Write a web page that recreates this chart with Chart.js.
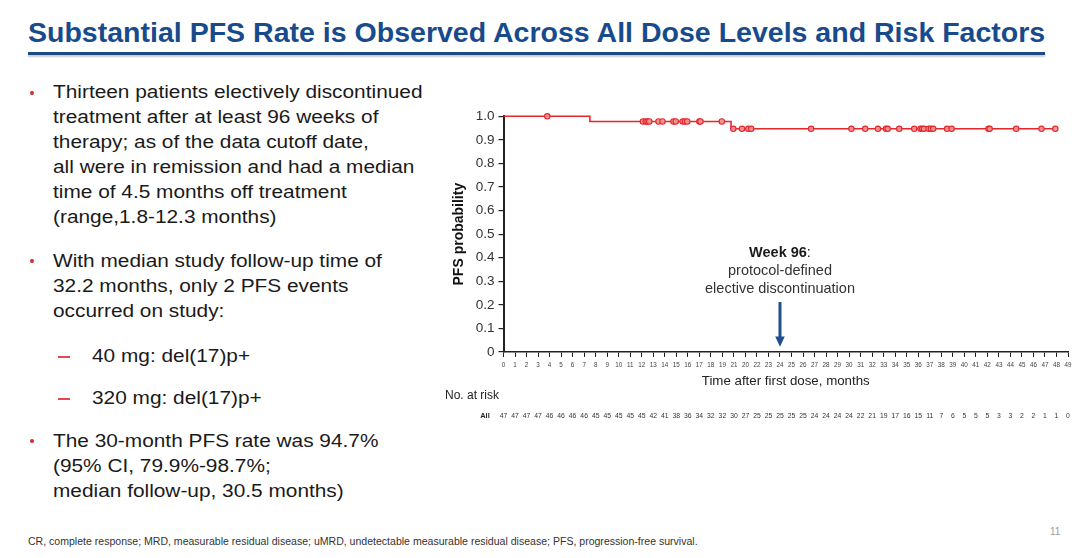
<!DOCTYPE html>
<html><head><meta charset="utf-8">
<script src="https://cdn.jsdelivr.net/npm/chart.js@4.4.1/dist/chart.umd.min.js"></script>
<style>
html,body{margin:0;padding:0;background:#fff;width:1080px;height:558px;overflow:hidden;font-family:"Liberation Sans",Arial,sans-serif;}
#title{position:absolute;left:28px;top:19px;font-size:27.3px;line-height:27px;font-weight:bold;color:#174b8c;white-space:nowrap;transform:scaleX(1.045);transform-origin:0 0;}
#rule{position:absolute;left:28px;top:51.5px;width:1017px;height:3.5px;background:#1b4a86;box-shadow:0 2px 2px rgba(0,0,0,0.22);}
.p{position:absolute;left:53px;font-size:18.7px;line-height:25px;color:#1a1a1a;white-space:nowrap;transform:scaleX(1.115);transform-origin:0 0;}
.p.sub{left:92px;}
.dot{position:absolute;left:29.5px;width:4.5px;height:4.5px;border-radius:50%;background:#e0262b;}
.dash{position:absolute;left:58px;width:12px;height:1.5px;background:#e4484c;}
#foot{position:absolute;left:28px;top:535.5px;font-size:10px;line-height:12px;color:#333;white-space:nowrap;transform:scaleX(1.054);transform-origin:0 0;}
#pnum{position:absolute;left:1050px;top:526px;font-size:10px;line-height:12px;color:#9a9a9a;}
#chartbox{position:absolute;left:440px;top:100px;width:640px;height:330px;}
</style>
</head>
<body>
<div id="title">Substantial PFS Rate is Observed Across All Dose Levels and Risk Factors</div>
<div id="rule"></div>

<div class="dot" style="top:90.5px"></div>
<div class="p" style="top:79.4px">Thirteen patients electively discontinued<br>treatment after at least 96 weeks of<br>therapy; as of the data cutoff date,<br>all were in remission and had a median<br>time of 4.5 months off treatment<br>(range,1.8-12.3 months)</div>

<div class="dot" style="top:258.9px"></div>
<div class="p" style="top:247.8px">With median study follow-up time of<br>32.2 months, only 2 PFS events<br>occurred on study:</div>

<div class="dash" style="top:356px"></div>
<div class="p sub" style="top:342.8px">40 mg: del(17)p+</div>
<div class="dash" style="top:398px"></div>
<div class="p sub" style="top:385.1px">320 mg: del(17)p+</div>

<div class="dot" style="top:438.9px"></div>
<div class="p" style="top:427.8px">The 30-month PFS rate was 94.7%<br>(95% CI, 79.9%-98.7%;<br>median follow-up, 30.5 months)</div>

<div id="foot">CR, complete response; MRD, measurable residual disease; uMRD, undetectable measurable residual disease; PFS, progression-free survival.</div>
<div id="pnum">11</div>

<div id="chartbox"><canvas id="c" width="640" height="330"></canvas></div>

<script>
// ---- data ----
const xTickLabels = ['0','1','2','3','4','5','6','7','8','9','10','11','12','13','14','15','16','17','18','19','21','20','22','23','24','25','26','27','28','29','30','31','32','33','34','35','36','37','38','39','40','41','42','43','44','45','46','47','48','49'];
const yTickValues = [0,0.1,0.2,0.3,0.4,0.5,0.6,0.7,0.8,0.9,1.0];
const kmTimes = [0, 7.5, 19.75, 47.9];
const kmSurv  = [1.0, 0.978, 0.947, 0.947];
const censorTimes = [3.8, 12.1, 12.35, 12.5, 12.65, 13.45, 13.8, 14.75, 14.95, 15.55, 15.75, 15.95, 17.0, 17.1, 18.95,
  19.95, 20.7, 21.25, 21.5, 26.7, 30.2, 31.4, 32.5, 33.2, 33.35, 34.35, 35.65, 36.2, 36.35, 36.5, 36.9, 37.1, 37.3,
  38.5, 38.9, 42.1, 42.2, 44.5, 46.7, 47.9];
const atRisk = [47,47,47,47,46,46,46,46,45,45,45,45,45,42,41,38,36,34,32,32,30,27,25,25,25,25,25,24,24,24,24,22,21,19,17,16,15,11,7,6,5,5,5,3,3,2,2,1,1,0];
const arrowMonth = 24;
const annotationLines = ['protocol-defined', 'elective discontinuation'];

// ---- helpers ----
function survAt(t){
  let s = kmSurv[0];
  for (let i = 0; i < kmTimes.length; i++){ if (kmTimes[i] <= t) s = kmSurv[i]; }
  return s;
}
const kmPoints = kmTimes.map((t,i)=>({x:t, y:kmSurv[i]}));
const censorPoints = censorTimes.map(t=>({x:t, y:survAt(t)}));

const FONT = '"Liberation Sans", Arial, sans-serif';

const overlay = {
  id:'overlay',
  afterDraw(chart){
    const ctx = chart.ctx;
    const xs = chart.scales.x, ys = chart.scales.y;
    ctx.save();
    // No. at risk
    ctx.fillStyle = '#222';
    ctx.font = '12px ' + FONT;
    ctx.textAlign = 'left'; ctx.textBaseline = 'middle';
    ctx.fillText('No. at risk', 5, 296);
    ctx.font = 'bold 7.5px ' + FONT;
    ctx.textAlign = 'center';
    ctx.fillText('All', 45, 316);
    ctx.font = '6.8px ' + FONT;
    ctx.fillStyle = '#333';
    atRisk.forEach((n,i)=>{ ctx.fillText(String(n), xs.getPixelForValue(i), 316); });

    // annotation
    const ax = xs.getPixelForValue(arrowMonth);
    const y0 = ys.getPixelForValue(0);
    ctx.fillStyle = '#1a1a1a';
    ctx.font = 'bold 14.5px ' + FONT;
    const w1 = ctx.measureText('Week 96').width;
    ctx.font = '14.5px ' + FONT;
    const w2 = ctx.measureText(':').width;
    const sx = ax - (w1 + w2)/2;
    ctx.textAlign = 'left';
    ctx.font = 'bold 14.5px ' + FONT;
    ctx.fillText('Week 96', sx, y0 - 99.3);
    ctx.font = '14.5px ' + FONT;
    ctx.fillText(':', sx + w1, y0 - 99.3);
    ctx.textAlign = 'center';
    ctx.fillStyle = '#333';
    ctx.fillText(annotationLines[0], ax, y0 - 81.3);
    ctx.fillText(annotationLines[1], ax, y0 - 63);
    // arrow
    ctx.strokeStyle = '#1f4e8c'; ctx.fillStyle = '#1f4e8c';
    ctx.lineWidth = 3;
    ctx.beginPath(); ctx.moveTo(ax, y0 - 50); ctx.lineTo(ax, y0 - 14); ctx.stroke();
    ctx.beginPath(); ctx.moveTo(ax - 4.8, y0 - 15.5); ctx.lineTo(ax + 4.8, y0 - 15.5); ctx.lineTo(ax, y0 - 5.3); ctx.closePath(); ctx.fill();
    ctx.restore();
  }
};

new Chart(document.getElementById('c'), {
  type:'line',
  data:{
    datasets:[
      { data: kmPoints, stepped:'before', borderColor:'#e5262b', borderWidth:1.6, pointRadius:0, fill:false, clip:false, order:2 },
      { type:'scatter', data: censorPoints, showLine:false, pointStyle:'circle', pointRadius:2.7, pointBorderWidth:1.1,
        borderColor:'#e5262b', backgroundColor:'rgba(245,150,150,0.9)', clip:false, order:1 }
    ]
  },
  options:{
    responsive:false, animation:false, devicePixelRatio: window.devicePixelRatio || 1,
    layout:{ padding:{ left:0, top:16.3, right:12, bottom:39 } },
    plugins:{ legend:{display:false}, tooltip:{enabled:false} },
    scales:{
      x:{ type:'linear', min:0, max:49,
        afterFit(s){ s.height = 39; },
        border:{ display:true, color:'#222', width:1.5 },
        grid:{ drawOnChartArea:false, drawTicks:true, tickLength:5, color:'#222', lineWidth:1 },
        ticks:{ stepSize:1, autoSkip:false, maxRotation:0, minRotation:0, padding:4, color:'#444',
          font:{ family:FONT, size:6.3 }, callback:(v)=> xTickLabels[Math.round(v)] },
        title:{ display:true, text:'Time after first dose, months', color:'#222', font:{ family:FONT, size:13.3 }, padding:{ top:0, bottom:1.5 } }
      },
      y:{ type:'linear', min:0, max:1,
        afterFit(s){ s.width = 63.5; },
        afterBuildTicks(s){ s.ticks = yTickValues.map(v=>({value:v})); },
        border:{ display:true, color:'#222', width:2 },
        grid:{ drawOnChartArea:false, drawTicks:true, tickLength:5, color:'#222', lineWidth:1.2 },
        ticks:{ padding:4, color:'#333', font:{ family:FONT, size:13.5 }, callback:(v)=> v===0 ? '0' : v.toFixed(1) },
        title:{ display:true, text:'PFS probability', color:'#111', font:{ family:FONT, size:14, weight:'bold' }, padding:{ top:10.6, bottom:0 } }
      }
    }
  },
  plugins:[overlay]
});
</script>
</body></html>
